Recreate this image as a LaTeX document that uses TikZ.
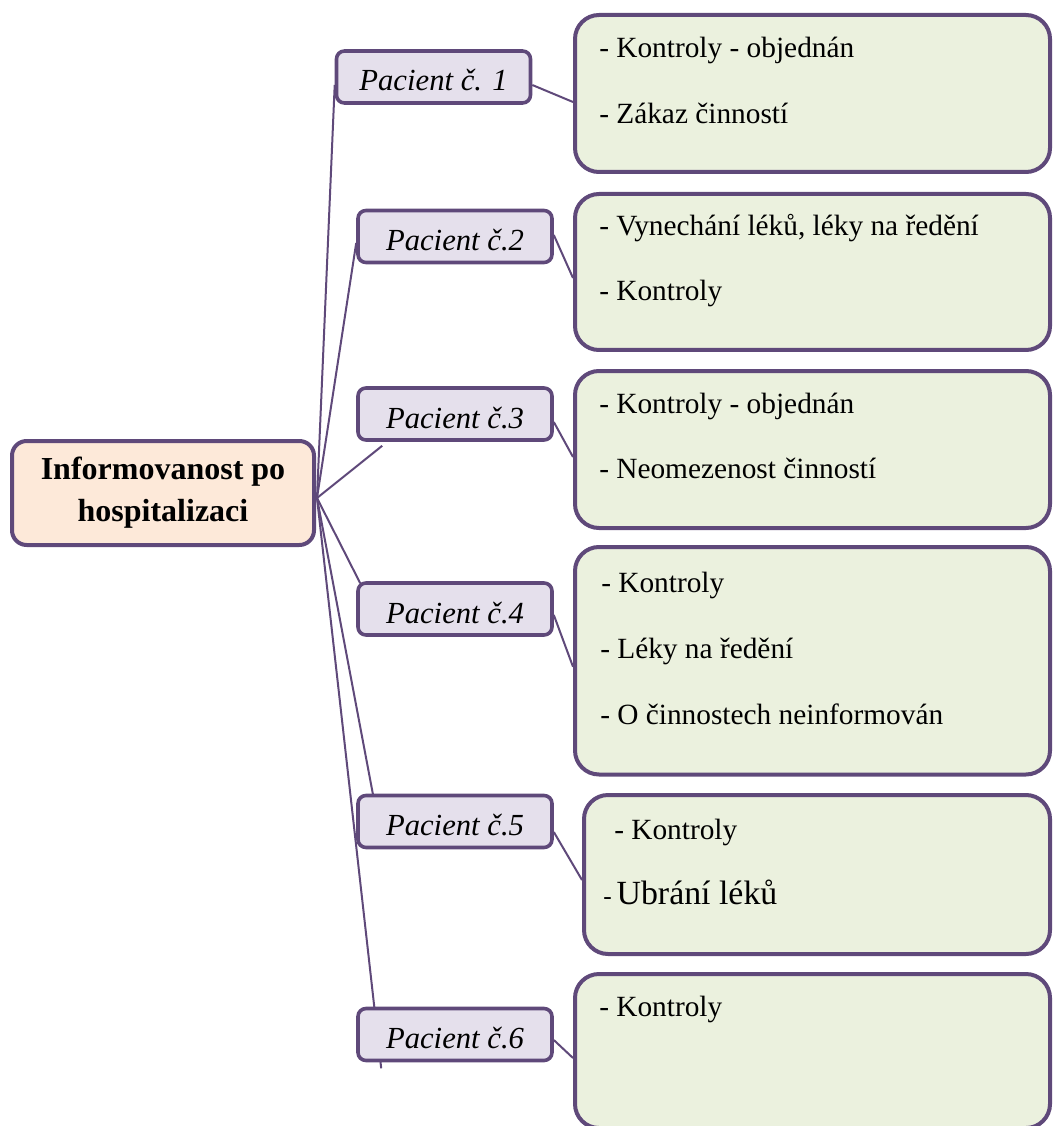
\documentclass[tikz,border=0pt]{standalone}
\usepackage{fontspec}
\setmainfont{Liberation Serif}
\usetikzlibrary{calc,backgrounds}
\definecolor{edge}{HTML}{5F497A}
\definecolor{rootfill}{HTML}{FDE9D9}
\definecolor{patfill}{HTML}{E5E0EC}
\definecolor{notefill}{HTML}{EBF1DE}

\begin{document}
\begin{tikzpicture}[x=0.75pt,y=-0.75pt,
  rootbox/.style={draw=edge, line width=3pt, fill=rootfill, rounded corners=11pt,
    align=center, font=\fontsize{24}{31.5}\selectfont\bfseries, inner sep=0pt,
    minimum width=302*0.75pt, minimum height=104*0.75pt},
  patbox/.style={draw=edge, line width=2.7pt, fill=patfill, rounded corners=6pt,
    font=\fontsize{23}{27}\selectfont\itshape, inner sep=0pt,
    minimum width=194*0.75pt, minimum height=52*0.75pt,
    text height=21pt, text depth=0pt},
  notebox/.style={draw=edge, line width=3pt, fill=notefill, rounded corners=18pt,
    inner sep=0pt},
  item/.style={anchor=base west, inner sep=0pt, font=\fontsize{22}{26}\selectfont},
  link/.style={draw=edge, line width=1.5pt}]

\useasboundingbox (0,0) rectangle (1053,1126);

% central topic
\node[rootbox] (root) at (163,493) {Informovanost po\\hospitalizaci};

% patients
\node[patbox] (p1) at (433.5,77)    {Pacient č. 1};
\node[patbox] (p2) at (455,236.5)   {Pacient č.2};
\node[patbox] (p3) at (455,414)     {Pacient č.3};
\node[patbox] (p4) at (455,609)     {Pacient č.4};
\node[patbox] (p5) at (455,821.5)   {Pacient č.5};
\node[patbox] (p6) at (455,1034.5)  {Pacient č.6};

% note panels
\node[notebox, minimum width=475*0.75pt, minimum height=157*0.75pt]   (g1) at (812.5,93.5) {};
\node[notebox, minimum width=475*0.75pt, minimum height=156*0.75pt]   (g2) at (812.5,272) {};
\node[notebox, minimum width=475*0.75pt, minimum height=157*0.75pt]   (g3) at (812.5,449.5) {};
\node[notebox, minimum width=475*0.75pt, minimum height=227.5*0.75pt] (g4) at (812.5,660.75) {};
\node[notebox, minimum width=466*0.75pt, minimum height=159*0.75pt]   (g5) at (817,874.5) {};
\node[notebox, minimum width=475*0.75pt, minimum height=154*0.75pt]   (g6) at (812.5,1051) {};

% note texts
\node[item] (g1a) at (599,58)  {- Kontroly - objednán};
\node[item] (g1b) at (599,124) {- Zákaz činností};
\node[item] (g2a) at (599,236) {- Vynechání léků, léky na ředění};
\node[item] (g2b) at (599,301) {- Kontroly};
\node[item] (g3a) at (599,413) {- Kontroly - objednán};
\node[item] (g3b) at (599,478) {- Neomezenost činností};
\node[item] (g4a) at (601,592) {- Kontroly};
\node[item] (g4b) at (600,658) {- Léky na ředění};
\node[item] (g4c) at (600,724) {- O činnostech neinformován};
\node[item] (g5a) at (614,839) {- Kontroly};
\node[item] (g5b) at (603,904) {{\fontsize{19}{22}\selectfont -}\,{\fontsize{25.4}{30}\selectfont Ubrání léků}};
\node[item] (g6a) at (599,1016) {- Kontroly};

% connectors, kept behind the boxes
\begin{scope}[on background layer]
  \coordinate (hub) at ($(root.east)+(1,5)$);
  \draw[link] (hub) -- ($(p1.west)+(0,8)$);
  \draw[link] (hub) -- ($(p2.west)+(0,6.5)$);
  \draw[link] (hub) -- ($(p3.south west)+(26,4)$);
  \draw[link] (hub) -- ($(p4.north west)+(4,2)$);
  \draw[link] (hub) -- ($(p5.north west)+(17,2)$);
  \draw[link] (hub) -- ($(p6.south west)+(25,6)$);

  \draw[link] ($(p1.east)+(0,8)$)    -- ($(g1.west)+(0,8.5)$);
  \draw[link] ($(p2.east)+(0,-1.5)$) -- ($(g2.west)+(0,6)$);
  \draw[link] ($(p3.east)+(0,8)$)    -- ($(g3.west)+(0,7.5)$);
  \draw[link] ($(p4.east)+(0,6)$)    -- ($(g4.west)+(0,6)$);
  \draw[link] ($(p5.east)+(0,10.5)$) -- ($(g5.west)+(0,5.5)$);
  \draw[link] ($(p6.east)+(0,5.5)$)  -- ($(g6.west)+(0,7)$);
\end{scope}
\end{tikzpicture}
\end{document}
